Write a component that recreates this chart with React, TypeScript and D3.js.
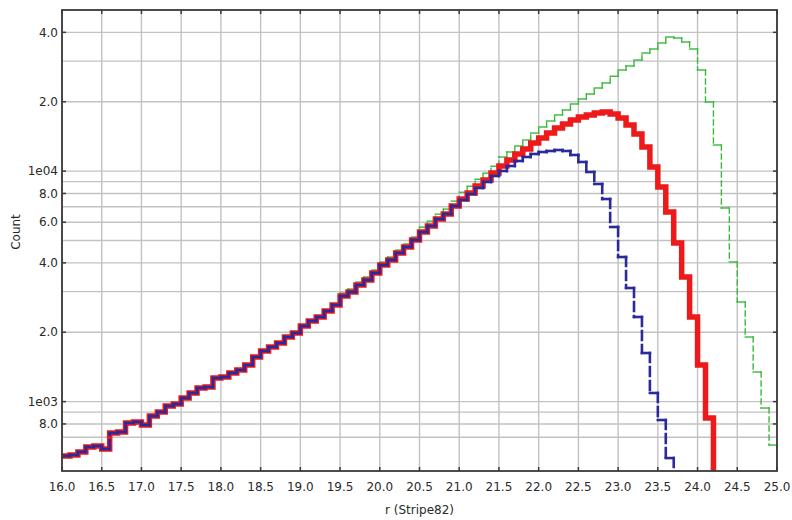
import * as d3 from 'd3';

// bins are 0.1 mag wide, 16.0 .. 25.0
const binEdges = d3.range(160, 251).map((d) => d / 10);

const redCounts = [
  581, 587, 605, 636, 642, 623, 731, 738, 808, 816,
  792, 866, 901, 957, 976, 1037, 1090, 1146, 1157, 1266,
  1279, 1331, 1372, 1442, 1561, 1658, 1726, 1796, 1907, 1985,
  2128, 2237, 2329, 2473, 2626, 2872, 2989, 3206, 3370, 3614,
  3914, 4116, 4413, 4687, 5025, 5443, 5779, 6197, 6515, 7057,
  7568, 8035, 8617, 9152, 9813, 10524, 11176, 11867, 12469, 13243,
  13918, 14630, 15384, 16008, 16662, 17170, 17518, 17868, 18050, 17690,
  16997, 15851, 14491, 12722, 10419, 8535, 6646, 4877, 3472, 2329,
  1442, 849, 410,
];

const blueCounts = [
  581, 587, 605, 636, 642, 623, 731, 738, 808, 816,
  792, 866, 901, 957, 976, 1037, 1090, 1146, 1157, 1266,
  1279, 1331, 1372, 1442, 1561, 1658, 1726, 1796, 1907, 1985,
  2128, 2237, 2329, 2473, 2626, 2872, 2989, 3206, 3370, 3614,
  3914, 4116, 4413, 4687, 5025, 5443, 5779, 6197, 6515, 7057,
  7493, 7956, 8447, 8971, 9524, 10012, 10524, 11066, 11515, 11867,
  12103, 12226, 12348, 12226, 11748, 10955, 9912, 8793, 7568, 5722,
  4240, 3111, 2329, 1625, 1090, 832, 569, 380,
];

const greenCounts = [
  587, 593, 611, 642, 648, 629, 738, 745, 816, 824,
  800, 875, 910, 967, 986, 1047, 1101, 1157, 1169, 1279,
  1292, 1344, 1386, 1456, 1577, 1675, 1743, 1814, 1926, 2005,
  2149, 2259, 2352, 2498, 2652, 2958, 3079, 3302, 3471, 3722,
  4031, 4239, 4545, 4828, 5176, 5715, 6068, 6507, 6841, 7410,
  8098, 8597, 9220, 9793, 10500, 11515, 12103, 12853, 13646, 14630,
  15537, 16496, 17518, 18416, 19555, 20556, 21608, 22940, 24115, 25800,
  27458, 28577, 30345, 32539, 33866, 35958, 38178, 37796, 36326, 33866,
  27458, 19953, 12981, 6918, 4034, 2705, 1907, 1344, 938, 648,
];

const xTickValues = d3.range(32, 51).map((d) => d / 2);
const yTickValues = [800, 1000, 2000, 4000, 6000, 8000, 10000, 20000, 40000];
const yTickLabels = ['8.0', '1e03', '2.0', '4.0', '6.0', '8.0', '1e04', '2.0', '4.0'];
const yGridValues = [
  700, 800, 900, 1000, 2000, 3000, 4000, 5000, 6000, 7000, 8000, 9000,
  10000, 20000, 30000, 40000,
];

const width = 792;
const height = 520;
const margin = { top: 10, right: 15, bottom: 49, left: 62 };

const x = d3.scaleLinear().domain([16, 25]).range([margin.left, width - margin.right]);
const y = d3.scaleLog().domain([500, 50000]).range([height - margin.bottom, margin.top]);
const yBottom = height - margin.bottom;

function yPos(c: number) {
  return c < 500 ? yBottom + 20 : y(c);
}

type Seg = { x1: number; y1: number; x2: number; y2: number; vertical: boolean };

function stepSegments(counts: number[]): Seg[] {
  const segs: Seg[] = [];
  counts.forEach((c, i) => {
    const xa = x(binEdges[i]);
    const xb = x(binEdges[i + 1]);
    const yv = yPos(c);
    segs.push({ x1: xa, y1: yv, x2: xb, y2: yv, vertical: false });
    const yn = i + 1 < counts.length ? yPos(counts[i + 1]) : yBottom + 20;
    segs.push({ x1: xb, y1: yv, x2: xb, y2: yn, vertical: true });
  });
  return segs;
}

function stepPath(counts: number[]) {
  const pts: [number, number][] = [];
  counts.forEach((c, i) => {
    pts.push([x(binEdges[i]), yPos(c)]);
    pts.push([x(binEdges[i + 1]), yPos(c)]);
  });
  pts.push([x(binEdges[counts.length]), yBottom + 20]);
  return d3.line()(pts) || '';
}

const font = '"DejaVu Sans", sans-serif';

function DashedSteps({ counts, color, w, dash }: { counts: number[]; color: string; w: number; dash: string }) {
  return (
    <g stroke={color} strokeWidth={w} strokeLinecap="square" fill="none">
      {stepSegments(counts).map((s, i) => (
        <line
          key={i}
          x1={s.x1}
          y1={s.y1}
          x2={s.x2}
          y2={s.y2}
          strokeDasharray={s.vertical ? dash : undefined}
        />
      ))}
    </g>
  );
}

export default function App() {
  const plotW = width - margin.left - margin.right;
  const plotH = height - margin.top - margin.bottom;

  return (
    <div style={{ position: 'absolute', left: 0, top: 0, background: '#fff' }}>
      <svg width={width} height={height} viewBox={`0 0 ${width} ${height}`} style={{ display: 'block' }}>
        <defs>
          <clipPath id="plot-clip">
            <rect x={margin.left} y={margin.top} width={plotW} height={plotH} />
          </clipPath>
        </defs>
        <rect width={width} height={height} fill="#fff" />

        {/* grid */}
        <g stroke="#c2c2c2" strokeWidth={1.4}>
          {xTickValues.map((v) => (
            <line key={`gx${v}`} x1={x(v)} x2={x(v)} y1={margin.top} y2={yBottom} />
          ))}
          {yGridValues.map((v) => (
            <line key={`gy${v}`} x1={margin.left} x2={width - margin.right} y1={y(v)} y2={y(v)} />
          ))}
        </g>

        <g clipPath="url(#plot-clip)">
          <DashedSteps counts={greenCounts} color="#3cb83c" w={1.4} dash="5,4" />
          <path
            d={stepPath(redCounts)}
            fill="none"
            stroke="#ec1a1a"
            strokeWidth={5.5}
            strokeLinejoin="miter"
          />
          <DashedSteps counts={blueCounts} color="#2a2a9c" w={2.6} dash="9,5" />
        </g>

        {/* frame and ticks */}
        <rect
          x={margin.left}
          y={margin.top}
          width={plotW}
          height={plotH}
          fill="none"
          stroke="#3a3a3a"
          strokeWidth={1.8}
        />
        <g stroke="#3a3a3a" strokeWidth={1.5}>
          {xTickValues.map((v) => (
            <g key={`tx${v}`}>
              <line x1={x(v)} x2={x(v)} y1={yBottom} y2={yBottom - 4} />
              <line x1={x(v)} x2={x(v)} y1={margin.top} y2={margin.top + 4} />
            </g>
          ))}
          {yTickValues.map((v) => (
            <g key={`ty${v}`}>
              <line x1={margin.left} x2={margin.left + 4} y1={y(v)} y2={y(v)} />
              <line x1={width - margin.right} x2={width - margin.right - 4} y1={y(v)} y2={y(v)} />
            </g>
          ))}
        </g>

        <g fontFamily={font} fontSize={12} fill="#2a2a2a">
          {xTickValues.map((v) => (
            <text key={`lx${v}`} x={x(v)} y={yBottom + 20} textAnchor="middle">
              {v.toFixed(1)}
            </text>
          ))}
          {yTickValues.map((v, i) => (
            <text key={`ly${v}`} x={margin.left - 4} y={y(v)} dy="0.35em" textAnchor="end">
              {yTickLabels[i]}
            </text>
          ))}
          <text x={(margin.left + width - margin.right) / 2} y={514} textAnchor="middle">
            r (Stripe82)
          </text>
          <text transform={`translate(20, 232) rotate(-90)`} textAnchor="middle">
            Count
          </text>
        </g>
      </svg>
    </div>
  );
}
